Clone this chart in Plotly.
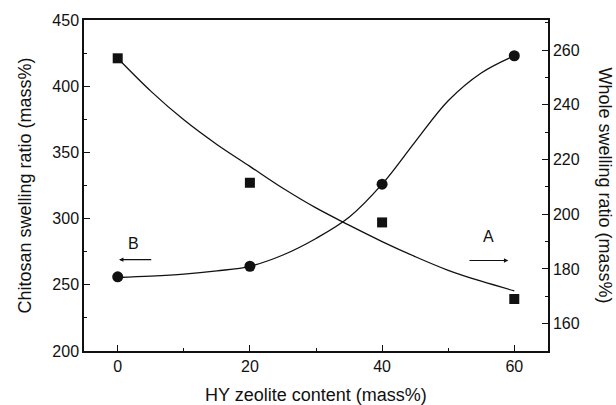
import plotly.graph_objects as go

# Measured points
x_pts = [0, 20, 40, 60]
chitosan_ratio = [256, 264, 326, 423]      # circles, left axis (B)
whole_ratio = [257, 211.5, 197, 169]       # squares, right axis (A)

# Fitted curves
curve_x = [0, 5, 10, 15, 20, 25, 30, 35, 40, 45, 50, 55, 60]
chitosan_fit = [255.5, 256.5, 258, 260.5, 264, 272.5, 285, 301, 326, 358, 389, 410, 423]
whole_fit = [257, 245, 234.5, 225.5, 217.5, 209.5, 202.3, 196, 190, 184.5, 179.5, 175.5, 172]

x_ticks = [0, 20, 40, 60]
left_ticks = [200, 250, 300, 350, 400, 450]
right_ticks = [160, 180, 200, 220, 240, 260]

FONT = "Liberation Sans, Arial, sans-serif"
BLACK = "#111111"
TICK_SIZE = 16
TITLE_SIZE = 18

fig = go.Figure()
fig.add_trace(go.Scatter(x=curve_x, y=chitosan_fit, mode="lines", line=dict(color=BLACK, width=1.3, shape="spline"),
                         yaxis="y", showlegend=False, hoverinfo="skip"))
fig.add_trace(go.Scatter(x=curve_x, y=whole_fit, mode="lines", line=dict(color=BLACK, width=1.3, shape="spline"),
                         yaxis="y2", showlegend=False, hoverinfo="skip"))
fig.add_trace(go.Scatter(x=x_pts, y=chitosan_ratio, mode="markers",
                         marker=dict(symbol="circle", size=11, color=BLACK), yaxis="y", showlegend=False))
fig.add_trace(go.Scatter(x=x_pts, y=whole_ratio, mode="markers",
                         marker=dict(symbol="square", size=10, color=BLACK), yaxis="y2", showlegend=False))

axis_common = dict(showgrid=False, zeroline=False, showline=True, linecolor=BLACK, linewidth=1.5,
                   ticks="inside", ticklen=6, tickwidth=1.2, tickcolor=BLACK, automargin=False,
                   tickfont=dict(family=FONT, size=TICK_SIZE, color=BLACK))

fig.update_layout(
    width=616, height=405,
    margin=dict(l=84, r=68, t=20, b=54),
    paper_bgcolor="white", plot_bgcolor="white",
    font=dict(family=FONT, size=TICK_SIZE, color=BLACK),
    xaxis=dict(range=[-5.1, 65.1], tickvals=x_ticks, mirror=True,
               minor=dict(dtick=10, tick0=0, ticks="inside", ticklen=3, tickcolor=BLACK),
               title=dict(text="HY zeolite content (mass%)", font=dict(family=FONT, size=TITLE_SIZE, color=BLACK), standoff=18),
               **axis_common),
    yaxis=dict(range=[200, 450], tickvals=left_ticks,
               minor=dict(dtick=25, tick0=200, ticks="inside", ticklen=3, tickcolor=BLACK),
               title=dict(text="Chitosan swelling ratio (mass%)", font=dict(family=FONT, size=TITLE_SIZE, color=BLACK), standoff=16),
               **axis_common),
    yaxis2=dict(range=[150, 271], tickvals=right_ticks, overlaying="y", side="right",
                minor=dict(dtick=10, tick0=150, ticks="inside", ticklen=3, tickcolor=BLACK),
                **axis_common),
)

# Right axis title (reads top to bottom)
fig.add_annotation(text="Whole swelling ratio (mass%)", xref="paper", yref="paper", x=1.0, y=0.5,
                   xanchor="center", yanchor="middle", xshift=57, textangle=90, showarrow=False,
                   font=dict(family=FONT, size=TITLE_SIZE, color=BLACK))

# Arrows indicating axes
fig.add_annotation(x=0.2, y=269, ax=5.3, ay=269, xref="x", yref="y", axref="x", ayref="y",
                   showarrow=True, arrowhead=2, arrowsize=0.8, arrowwidth=1.1, arrowcolor=BLACK, text="")
fig.add_annotation(x=2.4, y=281, xref="x", yref="y", text="B", showarrow=False,
                   font=dict(family=FONT, size=TICK_SIZE, color=BLACK))
fig.add_annotation(x=59.1, y=183.1, ax=53.0, ay=183.1, xref="x", yref="y2", axref="x", ayref="y2",
                   showarrow=True, arrowhead=2, arrowsize=0.8, arrowwidth=1.1, arrowcolor=BLACK, text="")
fig.add_annotation(x=56.1, y=191.9, xref="x", yref="y2", text="A", showarrow=False,
                   font=dict(family=FONT, size=TICK_SIZE, color=BLACK))

# Remove the default page margin so the figure sits at the window's top-left corner
fig.write_html("out.html", config={"displayModeBar": False},
               post_script="document.body.style.margin='0';document.body.style.overflow='hidden';")
